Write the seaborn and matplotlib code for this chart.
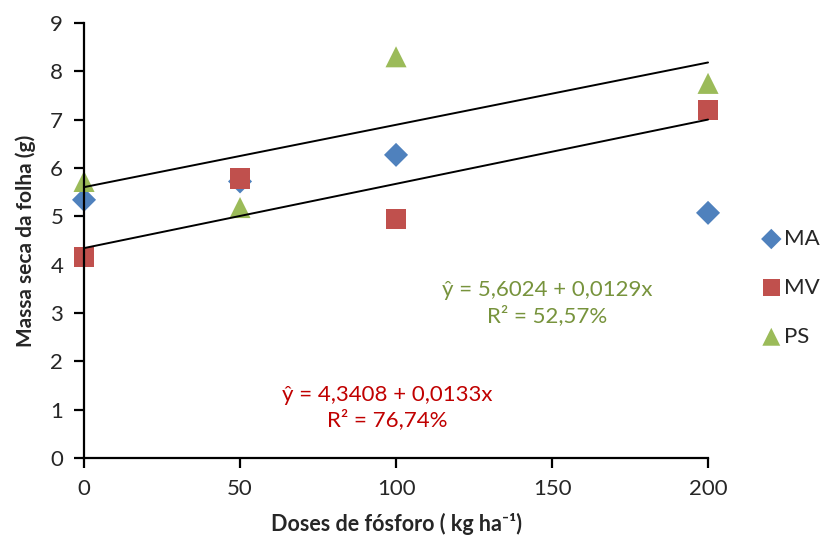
import pandas as pd
import numpy as np
import seaborn as sns
import matplotlib.pyplot as plt

# dados
doses = [0, 50, 100, 200]
ma = [5.34, 5.72, 6.27, 5.07]
mv = [4.16, 5.78, 4.95, 7.20]
ps = [5.72, 5.18, 8.30, 7.75]

# equações das retas (MV e PS)
coef_mv = (4.3408, 0.0133)
coef_ps = (5.6024, 0.0129)

sns.set_style('ticks')
plt.rcParams['font.family'] = ['Lato', 'DejaVu Sans']

fig = plt.figure(figsize=(8.32, 5.47), dpi=100)
ax = fig.add_axes([0.101, 0.163, 0.750, 0.795])

df = pd.DataFrame({'Dose': doses * 3,
                   'Massa': ma + mv + ps,
                   'Trat': ['MA'] * 4 + ['MV'] * 4 + ['PS'] * 4})

cores = {'MA': '#4F81BD', 'MV': '#C0504D', 'PS': '#9BBB59'}
marcas = {'MA': 'D', 'MV': 's', 'PS': '^'}
tamanhos = {'MA': 150, 'MV': 210, 'PS': 230}

# retas de tendência
xr = np.array([0, 200])
for b0, b1 in [coef_ps, coef_mv]:
    sns.lineplot(x=xr, y=b0 + b1 * xr, color='black', linewidth=1.4, ax=ax, zorder=3)

for t in ['MA', 'MV', 'PS']:
    sub = df[df['Trat'] == t]
    sns.scatterplot(data=sub, x='Dose', y='Massa', marker=marcas[t], color=cores[t],
                    s=tamanhos[t], edgecolor='none', label=t, ax=ax, zorder=2)

ax.set_xlim(0, 200)
ax.set_ylim(0, 9)
ax.set_xticks([0, 50, 100, 150, 200])
ax.set_yticks(range(0, 10))
for c in ax.collections + ax.lines:
    c.set_clip_on(False)
sns.despine(ax=ax)
for s in ['left', 'bottom']:
    ax.spines[s].set_linewidth(1.6)
    ax.spines[s].set_color('black')
ax.tick_params(axis='both', labelsize=16, width=1.6, length=7, color='black', pad=8)

ax.set_xlabel('Doses de fósforo ( kg ha⁻¹)', fontsize=15.5, fontweight='bold', labelpad=10)
ax.set_ylabel('Massa seca da folha (g)', fontsize=15, fontweight='bold', labelpad=10)

ax.text(0.658, 0.446, 'ŷ = 5,6024 + 0,0129x\nR² = 52,57%', transform=fig.transFigure,
        ha='center', va='center', fontsize=16, color='#77933C', linespacing=1.25)
ax.text(0.465, 0.255, 'ŷ = 4,3408 + 0,0133x\nR² = 76,74%', transform=fig.transFigure,
        ha='center', va='center', fontsize=16, color='#C00000', linespacing=1.25)

ax.legend(loc='center left', bbox_to_anchor=(0.903, 0.474), bbox_transform=fig.transFigure,
          frameon=False, fontsize=16, handletextpad=0.05, labelspacing=1.3,
          handlelength=1.0, borderaxespad=0, markerscale=0.85)

plt.savefig('out.png', dpi=100)
